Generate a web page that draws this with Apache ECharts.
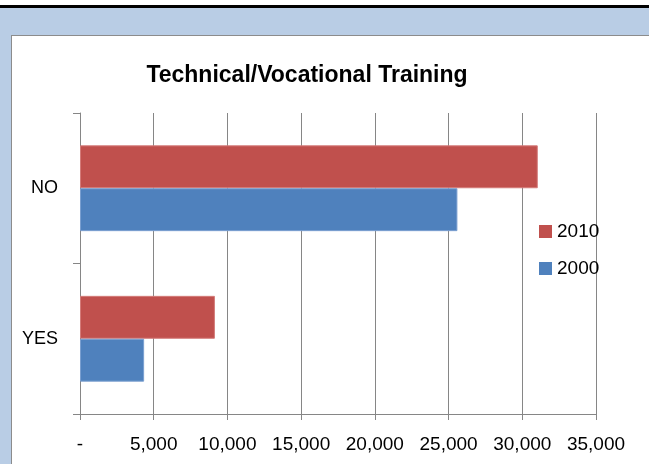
<!DOCTYPE html>
<html>
<head>
<meta charset="utf-8">
<script src="https://cdn.jsdelivr.net/npm/echarts@6/dist/echarts.min.js"></script>
<style>
  html, body { margin: 0; padding: 0; background: #fff; }
  #frame { position: absolute; left: 0; top: 5px; width: 649px; height: 459px;
           border-top: 3px solid #000; background: #b9cde5; box-sizing: border-box; }
  #panel { position: absolute; left: 11px; top: 35px; width: 640px; height: 432px;
           border: 1px solid #8c8c8c; background: #fff; }
  #main { position: absolute; left: 0; top: 0; width: 649px; height: 464px; }
</style>
</head>
<body>
<div id="frame"></div>
<div id="panel"></div>
<div id="main"></div>
<script>
  var categories = ['YES', 'NO'];
  var values2000 = [4350, 25600];
  var values2010 = [9150, 31050];
  var tickLabels = ['-', '5,000', '10,000', '15,000', '20,000', '25,000', '30,000', '35,000'];

  var myChart = echarts.init(document.getElementById('main'));
  var font = 'Liberation Sans, Arial, sans-serif';

  myChart.setOption({
    backgroundColor: 'transparent',
    animation: false,
    title: {
      text: 'Technical/Vocational Training',
      left: 302,
      top: 59,
      textAlign: 'center',
      textStyle: { fontFamily: font, fontSize: 23, fontWeight: 'bold', color: '#000' }
    },
    legend: {
      data: ['2010', '2000'],
      orient: 'vertical',
      left: 534,
      top: 217,
      itemWidth: 13,
      itemHeight: 13,
      itemGap: 18,
      icon: 'rect',
      itemStyle: { borderWidth: 0 },
      textStyle: { fontFamily: font, fontSize: 19, color: '#000' }
    },
    grid: { left: 80, right: 53, top: 113, bottom: 50 },
    xAxis: {
      type: 'value',
      min: 0,
      max: 35000,
      interval: 5000,
      axisLine: { show: true, lineStyle: { color: '#868686' } },
      axisTick: { show: true, length: 6, lineStyle: { color: '#868686' } },
      splitLine: { show: true, lineStyle: { color: '#868686' } },
      axisLabel: {
        margin: 21,
        fontFamily: font, fontSize: 19, color: '#000',
        formatter: function (v) { return tickLabels[Math.round(v / 5000)]; }
      }
    },
    yAxis: {
      type: 'category',
      data: categories,
      axisLine: { show: true, lineStyle: { color: '#868686' } },
      axisTick: { show: true, length: 7, lineStyle: { color: '#868686' } },
      axisLabel: { margin: 22, fontFamily: font, fontSize: 18, color: '#000' }
    },
    series: [
      {
        name: '2010', type: 'bar', data: values2010,
        barCategoryGap: '43%', barGap: '0%',
        itemStyle: { color: '#c0504d', borderColor: '#d47b79', borderWidth: 1 }
      },
      {
        name: '2000', type: 'bar', data: values2000,
        barCategoryGap: '43%', barGap: '0%',
        itemStyle: { color: '#4f81bd', borderColor: '#7a9fd0', borderWidth: 1 }
      }
    ]
  });
</script>
</body>
</html>
